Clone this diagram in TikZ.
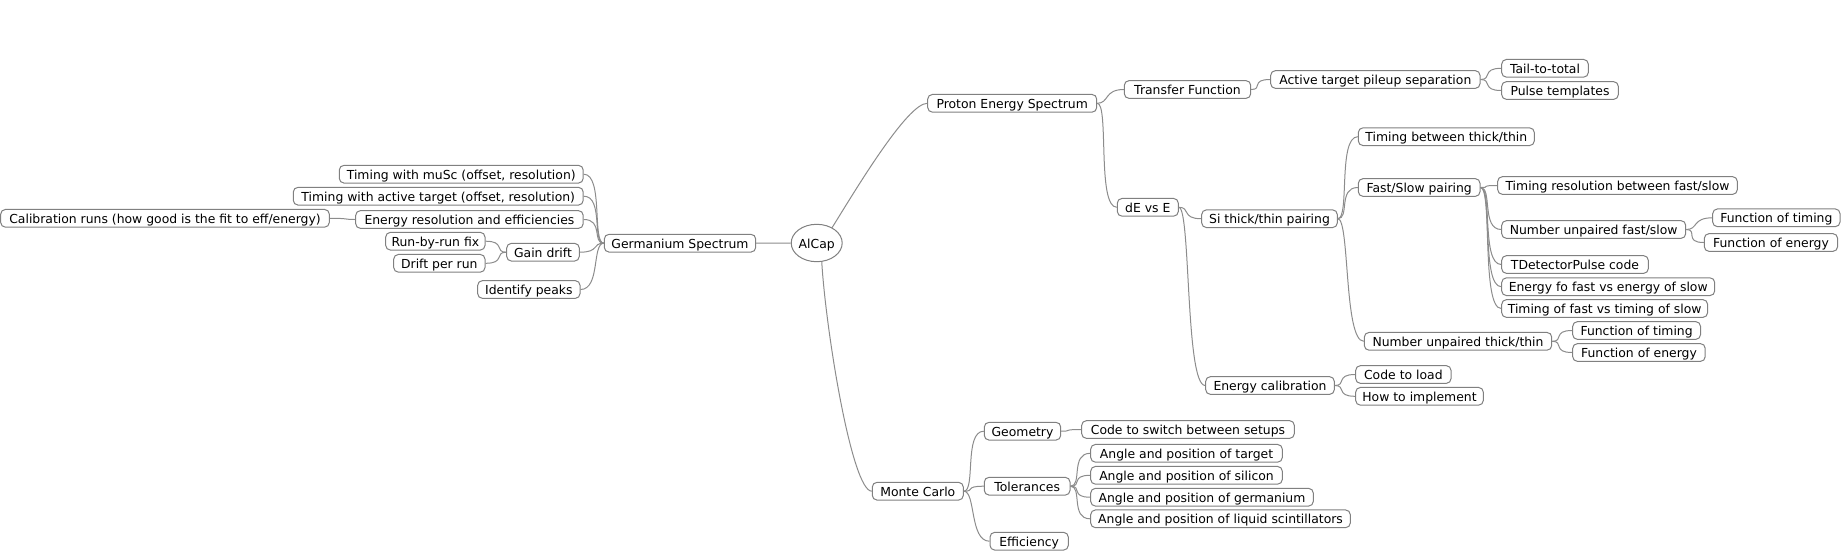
\documentclass[tikz,border=0pt]{standalone}
\usepackage{fontspec}
\setmainfont{DejaVu Sans}
\usetikzlibrary{shapes.geometric}
\definecolor{bordergray}{RGB}{128,128,128}
\definecolor{edgegray}{RGB}{140,140,140}
\newlength{\px}\setlength{\px}{0.75pt}
\tikzset{
  box/.style={draw=bordergray, line width=0.75pt, rounded corners=3.5pt, fill=white,
    inner sep=0pt, minimum height=17.7\px, text height=7.5pt, text depth=0pt,
    font=\fontsize{9.3pt}{11pt}\selectfont},
  rootnode/.style={draw=bordergray, line width=0.75pt, ellipse, fill=white, inner sep=0pt,
    minimum width=50\px, minimum height=37.4\px, text height=7.5pt, text depth=0pt,
    font=\fontsize{9.3pt}{11pt}\selectfont},
  link/.style={draw=edgegray, line width=0.75pt}
}
\newcommand\rlink[2]{\draw[link] (#1.east) .. controls +(12,0) and +(-20,0) .. (#2.west);}
\newcommand\llink[2]{\draw[link] (#1.west) .. controls +(-12,0) and +(20,0) .. (#2.east);}
\begin{document}
\begin{tikzpicture}[x=0.75pt, y=-0.75pt]
\useasboundingbox (0,0) rectangle (1841,551);
% root
\node[rootnode] (al) at (816.7,243) {AlCap};
% left subtree
\node[box, minimum width=151.4\px] (gs) at (680,243.2) {Germanium Spectrum};
\node[box, minimum width=243.9\px] (mu) at (461.25,174.2) {Timing with muSc (offset, resolution)};
\node[box, minimum width=289.9\px] (at) at (438.25,196.2) {Timing with active target (offset, resolution)};
\node[box, minimum width=227.5\px] (er) at (469.45,219.5) {Energy resolution and efficiencies};
\node[box, minimum width=328.6\px] (cal) at (165,218.3) {Calibration runs (how good is the fit to eff/energy)};
\node[box, minimum width=72.6\px] (gd) at (543,252.2) {Gain drift};
\node[box, minimum width=99.3\px] (rr) at (435.35,241.2) {Run-by-run fix};
\node[box, minimum width=91.3\px] (dr) at (439.35,263.3) {Drift per run};
\node[box, minimum width=102.3\px] (ip) at (528.85,289.5) {Identify peaks};
% proton energy spectrum subtree
\node[box, minimum width=169\px] (pes) at (1012.2,103.3) {Proton Energy Spectrum};
\node[box, minimum width=126.4\px] (tf) at (1187.5,89.5) {Transfer Function};
\node[box, minimum width=209.3\px] (atp) at (1375.35,79.5) {Active target pileup separation};
\node[box, minimum width=86.6\px] (tt) at (1545,68.3) {Tail-to-total};
\node[box, minimum width=116.6\px] (pt) at (1560,90.5) {Pulse templates};
\node[box, minimum width=61\px] (de) at (1147.8,207.3) {dE vs E};
\node[box, minimum width=135.6\px] (si) at (1269.5,218.7) {Si thick/thin pairing};
\node[box, minimum width=176\px] (tb) at (1446.3,136.7) {Timing between thick/thin};
\node[box, minimum width=121.7\px] (fs) at (1419.15,187.5) {Fast/Slow pairing};
\node[box, minimum width=239.6\px] (tr) at (1617.5,185.5) {Timing resolution between fast/slow};
\node[box, minimum width=184\px] (nf) at (1593.7,229.5) {Number unpaired fast/slow};
\node[box, minimum width=127.3\px] (fta) at (1776.35,217.8) {Function of timing};
\node[box, minimum width=133.3\px] (fea) at (1770.95,242.5) {Function of energy};
\node[box, minimum width=146.6\px] (td) at (1575,264.5) {TDetectorPulse code};
\node[box, minimum width=213\px] (ef) at (1608.2,286.7) {Energy fo fast vs energy of slow};
\node[box, minimum width=205.9\px] (tof) at (1604.65,308.5) {Timing of fast vs timing of slow};
\node[box, minimum width=187.4\px] (nt) at (1458,341.3) {Number unpaired thick/thin};
\node[box, minimum width=127.8\px] (ftb) at (1636.6,330.5) {Function of timing};
\node[box, minimum width=132.5\px] (feb) at (1638.95,352.5) {Function of energy};
\node[box, minimum width=128.6\px] (ec) at (1270,385.5) {Energy calibration};
\node[box, minimum width=95.3\px] (cl) at (1403.35,374.5) {Code to load};
\node[box, minimum width=127.6\px] (hi) at (1419.5,396.3) {How to implement};
% monte carlo subtree
\node[box, minimum width=91\px] (mc) at (917.8,491.2) {Monte Carlo};
\node[box, minimum width=76.4\px] (geo) at (1022.5,431.2) {Geometry};
\node[box, minimum width=212.6\px] (cs) at (1188,429.5) {Code to switch between setups};
\node[box, minimum width=85.7\px] (tol) at (1027.15,486.2) {Tolerances};
\node[box, minimum width=191.6\px] (ta) at (1186.5,453.3) {Angle and position of target};
\node[box, minimum width=191.6\px] (sil) at (1186.5,475.3) {Angle and position of silicon};
\node[box, minimum width=222.6\px] (ger) at (1202,497.2) {Angle and position of germanium};
\node[box, minimum width=259.6\px] (liq) at (1220.5,518.8) {Angle and position of liquid scintillators};
\node[box, minimum width=78.3\px] (eff) at (1029.15,541.2) {Efficiency};
% root links
\draw[link] (al.west) -- (gs.east);
\draw[link] (al.45) .. controls +(23,-37) and +(-20,0) .. (pes.west);
\draw[link] (al.-75) .. controls +(4,68) and +(-20,0) .. (mc.west);
% left links
\llink{gs}{mu}
\llink{gs}{at}
\llink{gs}{er}
\llink{gs}{gd}
\llink{gs}{ip}
\llink{er}{cal}
\llink{gd}{rr}
\llink{gd}{dr}
% right links
\rlink{pes}{tf}
\rlink{pes}{de}
\rlink{tf}{atp}
\rlink{atp}{tt}
\rlink{atp}{pt}
\rlink{de}{si}
\rlink{de}{ec}
\rlink{si}{tb}
\rlink{si}{fs}
\rlink{si}{nt}
\rlink{fs}{tr}
\rlink{fs}{nf}
\rlink{fs}{td}
\rlink{fs}{ef}
\rlink{fs}{tof}
\rlink{nf}{fta}
\rlink{nf}{fea}
\rlink{nt}{ftb}
\rlink{nt}{feb}
\rlink{ec}{cl}
\rlink{ec}{hi}
\rlink{mc}{geo}
\rlink{mc}{tol}
\rlink{mc}{eff}
\rlink{geo}{cs}
\rlink{tol}{ta}
\rlink{tol}{sil}
\rlink{tol}{ger}
\rlink{tol}{liq}
\end{tikzpicture}
\end{document}
